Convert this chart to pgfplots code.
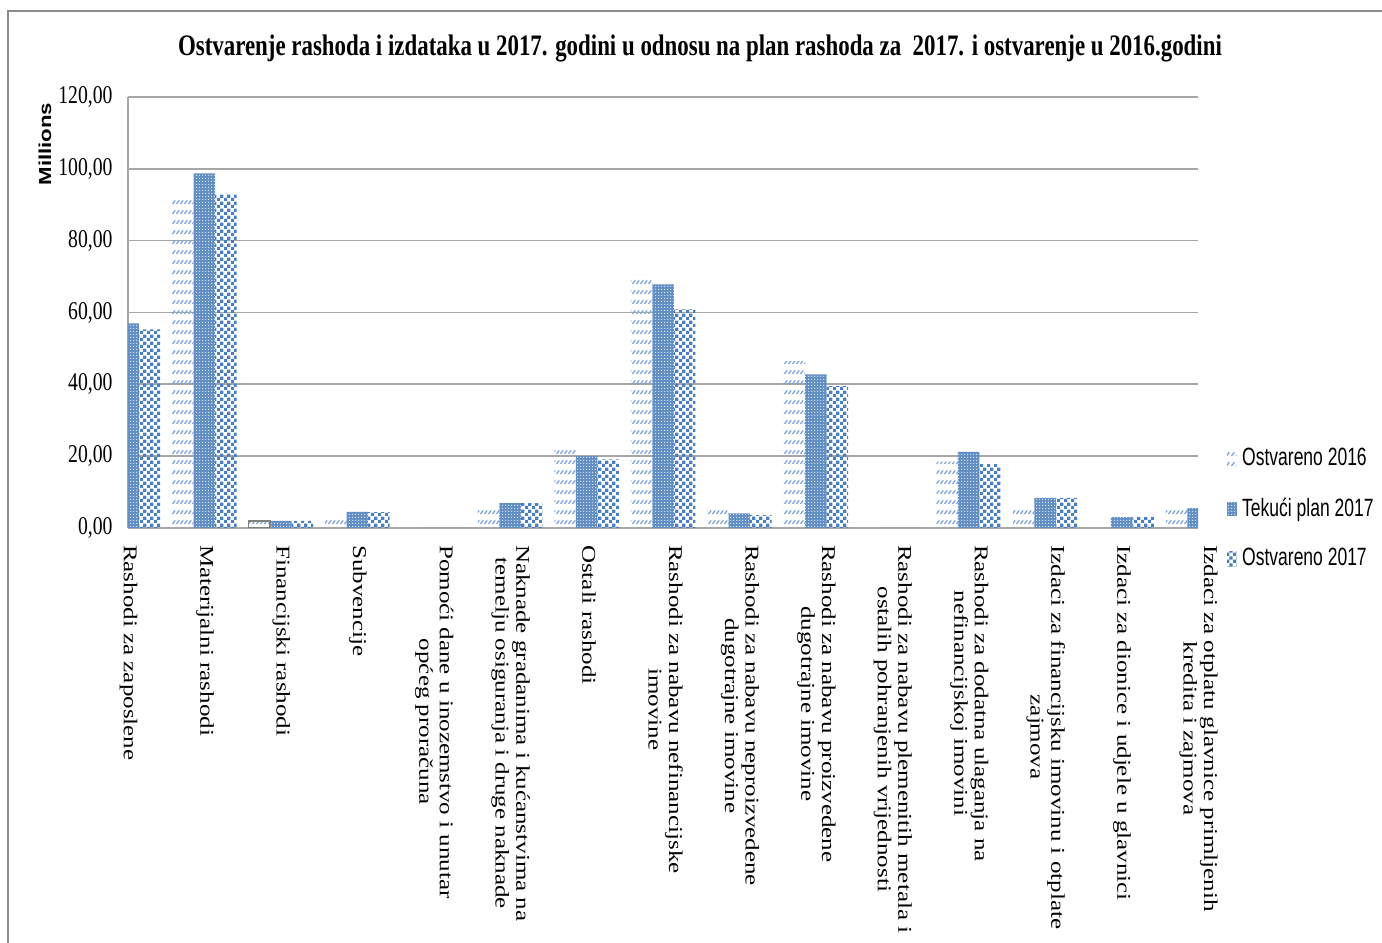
\documentclass[border=0pt]{standalone}
\usepackage{pgfplots}
\pgfplotsset{compat=1.18}
\usepackage{graphicx}
\usepackage{fontspec}
\usetikzlibrary{patterns.meta}
\setmainfont{Liberation Serif}
\setsansfont{Liberation Sans}
\newfontfamily\serifn[FakeStretch=0.77]{Liberation Serif}
\newfontfamily\sansn[FakeStretch=0.70]{Liberation Sans}

\definecolor{c16}{HTML}{7FA3D6}
\definecolor{c17p}{HTML}{4F81BD}
\definecolor{c17}{HTML}{4A7EC2}
\definecolor{gridc}{HTML}{A6A6A6}
\definecolor{framec}{HTML}{8C8C8C}

% light diagonal dashes (Ostvareno 2016)
\pgfdeclarepattern{
  name=hatchO, type=uncolored,
  bottom left={\pgfpoint{0pt}{0pt}}, top right={\pgfpoint{1.6pt}{3.5pt}},
  tile size={\pgfpoint{1.6pt}{3.5pt}},
  code={\pgfsetlinewidth{0.5pt}
    \pgfpathmoveto{\pgfpoint{0.2pt}{0.4pt}}\pgfpathlineto{\pgfpoint{1.3pt}{1.7pt}}
    \pgfusepath{stroke}}
}
% fine dots (Tekuci plan 2017)
\pgfdeclarepattern{
  name=finedots, type=uncolored,
  bottom left={\pgfpoint{0pt}{0pt}}, top right={\pgfpoint{1pt}{1pt}},
  tile size={\pgfpoint{1pt}{1pt}},
  code={\pgfpathrectangle{\pgfpoint{0pt}{0pt}}{\pgfpoint{0.4pt}{0.4pt}}\pgfusepath{fill}}
}
% checkerboard (Ostvareno 2017)
\pgfdeclarepattern{
  name=checkers, type=uncolored,
  bottom left={\pgfpoint{0pt}{0pt}}, top right={\pgfpoint{2.4pt}{2.4pt}},
  tile size={\pgfpoint{2.4pt}{2.4pt}},
  code={\pgfpathrectangle{\pgfpoint{0pt}{0pt}}{\pgfpoint{1.2pt}{1.2pt}}
    \pgfpathrectangle{\pgfpoint{1.2pt}{1.2pt}}{\pgfpoint{1.2pt}{1.2pt}}
    \pgfusepath{fill}}
}

\newcommand{\lab}[1]{\scalebox{1}[0.78]{\begin{tabular}{@{}c@{}}#1\end{tabular}}}

\begin{document}
\begin{tikzpicture}
\useasboundingbox (0,0) rectangle (497.52pt,339.48pt);
\draw[framec, line width=0.7pt] (2.88pt,-5pt) -- (2.88pt,335.5pt) -- (505pt,335.5pt);

\node[font=\serifn\bfseries\fontsize{10.7}{12}\selectfont] at (252pt,322pt)
  {Ostvarenje rashoda i izdataka u 2017. godini u odnosu na plan rashoda za\ \ 2017. i ostvarenje u 2016.godini};
\node[rotate=90, font=\sffamily\bfseries\fontsize{8}{9}\selectfont] at (16.2pt,287.6pt)
  {\scalebox{1}[0.78]{Millions}};

\begin{axis}[
    at={(46.08pt,149.4pt)}, anchor=south west,
    scale only axis,
    width=385.2pt, height=155.16pt,
    xmin=0, xmax=14, ymin=0, ymax=120,
    ybar=0pt, bar width=7.74pt,
    axis x line*=bottom, axis y line*=left,
    axis line style={-, draw=gridc, line width=0.6pt},
    ymajorgrids, grid style={draw=gridc, line width=0.6pt},
    major tick length=0pt,
    ytick={0,20,...,120},
    /pgf/number format/.cd, fixed, fixed zerofill, precision=2, use comma, 1000 sep={}, assume math mode=true,
    /pgfplots/.cd,
    yticklabel style={font=\serifn\fontsize{9.2}{10}\selectfont, inner sep=0pt},
    yticklabel shift=5.4pt,
    xtick={0,...,14},
    xticklabel style={font=\fontsize{9}{9.5}\selectfont, rotate=-90, anchor=west, inner sep=0pt},
    xticklabel shift=6pt,
    xticklabels={
      {\lab{Rashodi za zaposlene}},
      {\lab{Materijalni rashodi}},
      {\lab{Financijski rashodi}},
      {\lab{Subvencije}},
      {\lab{Pomoći dane u inozemstvo i unutar\\općeg proračuna}},
      {\lab{Naknade gradanima i kućanstvima na\\temelju osiguranja i druge naknade}},
      {\lab{Ostali rashodi}},
      {\lab{Rashodi za nabavu nefinancijske\\imovine}},
      {\lab{Rashodi za nabavu neproizvedene\\dugotrajne imovine}},
      {\lab{Rashodi za nabavu proizvedene\\dugotrajne imovine}},
      {\lab{Rashodi za nabavu plemenitih metala i\\ostalih pohranjenih vrijednosti}},
      {\lab{Rashodi za dodatna ulaganja na\\nefinancijskoj imovini}},
      {\lab{Izdaci za financijsku imovinu i otplate\\zajmova}},
      {\lab{Izdaci za dionice i udjele u glavnici}},
      {\lab{Izdaci za otplatu glavnice primljenih\\kredita i zajmova}}
    },
    legend cell align=left,
    legend image code/.code={\path[#1, draw=none] (0pt,-2.6pt) rectangle (3.4pt,2.6pt);},
    legend style={at={(1.019,0.044)}, anchor=west, draw=none, fill=none,
      font=\sansn\fontsize{9}{10}\selectfont, row sep=6pt},
]
\addplot[draw=none, pattern=hatchO, pattern color=c16, bar shift=-7.74pt] coordinates {
  (0,54.0) (1,92.4) (2,1.9) (3,3.3) (4,0) (5,5.2) (6,22.2) (7,70.7)
  (8,6.1) (9,46.5) (10,0) (11,18.5) (12,5.8) (13,0) (14,5.2)};
\addplot[draw=none, fill=c17p!90, postaction={pattern=finedots, pattern color=white!75!c17p}, bar shift=0pt] coordinates {
  (0,57.0) (1,98.7) (2,2.0) (3,4.5) (4,0) (5,6.9) (6,20.0) (7,67.8)
  (8,4.1) (9,42.8) (10,0) (11,21.2) (12,8.4) (13,3.0) (14,5.5)};
\addplot[draw=none, pattern=checkers, pattern color=c17, bar shift=7.74pt] coordinates {
  (0,55.3) (1,93.0) (2,2.0) (3,4.4) (4,0) (5,6.9) (6,19.1) (7,60.9)
  (8,3.6) (9,39.5) (10,0) (11,17.8) (12,8.4) (13,3.0) (14,5.0)};
\addplot[forget plot, draw=gray, line width=0.6pt, fill=none, bar shift=-7.74pt] coordinates {(2,1.9)};
\legend{Ostvareno 2016, Tekući plan 2017, Ostvareno 2017}
\end{axis}
\end{tikzpicture}
\end{document}
